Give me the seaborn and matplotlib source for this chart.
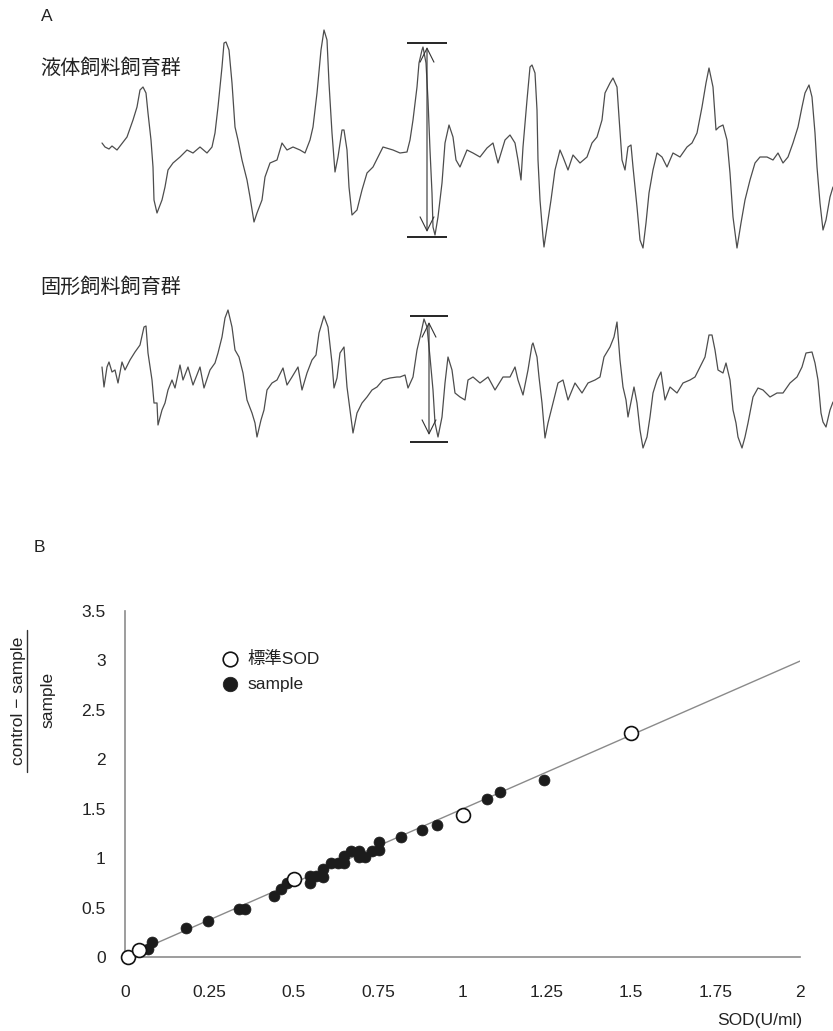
import matplotlib
matplotlib.use("Agg")
import matplotlib.pyplot as plt
from matplotlib.lines import Line2D
from matplotlib import font_manager as fm
import numpy as np
import seaborn as sns

# ---------------- ESR spectra (panel A) ----------------
liquid_field = [2, 5, 9, 12, 17, 27, 33, 37, 40, 43, 46, 48, 51, 53, 54, 57, 62, 65, 68, 73, 80, 87, 93,
                100, 107, 112, 115, 118, 122, 124, 126, 129, 132, 135, 138, 142, 147, 150, 154, 157, 162,
                165, 170, 177, 182, 187, 193, 200, 205, 210, 213, 217, 221, 224, 227, 229, 232, 235, 238,
                242, 244, 247, 249, 252, 257, 262, 267, 273, 278, 283, 293, 300, 307, 310, 313, 317, 319,
                322, 323, 326, 328, 330, 332, 333, 335, 338, 342, 345, 349, 353, 356, 360, 367, 373, 380,
                387, 393, 398, 405, 410, 415, 418, 421, 423, 427, 430, 432, 435, 437, 438, 440, 443, 444,
                447, 451, 455, 460, 463, 468, 473, 480, 487, 492, 497, 502, 505, 510, 513, 517, 519, 522,
                525, 528, 531, 533, 537, 540, 543, 546, 549, 553, 557, 562, 567, 573, 580, 587, 592, 597,
                602, 606, 609, 613, 616, 619, 623, 627, 630, 633, 637, 641, 645, 650, 655, 660, 667, 673,
                678, 683, 688, 693, 698, 702, 705, 709, 712, 715, 717, 720, 723, 726, 730, 733]
liquid_signal = [7, 3, 1, 4, 0, 13, 30, 43, 60, 63, 57, 37, 10, -17, -50, -63, -50, -37, -20, -13, -7, 0, -3,
                 3, -3, 3, 17, 43, 83, 107, 108, 100, 67, 23, 10, -10, -30, -47, -72, -63, -50,
                 -27, -13, -10, 7, 0, 3, 0, -3, 10, 23, 57, 100, 120, 110, 67, 17, -22, -7,
                 20, 20, 0, -37, -65, -60, -40, -23, -17, -7, 3, 0, -3, -2, 10, 30, 63, 87,
                 100, 103, 87, 50, 0, -43, -77, -85, -67, -33, 7, 25, 13, -10, -17, 0, -3, -7,
                 2, 7, -13, 10, 15, 7, -10, -30, 3, 50, 83, 85, 77, 40, -10, -50, -87, -97,
                 -77, -50, -20, 0, -7, -20, -5, -13, -7, 7, 13, 30, 57, 67, 72, 63, 33, -10,
                 -20, 3, 5, -17, -57, -90, -98, -73, -43, -20, -3, -7, -17, -3, -7, 3, 7, 17,
                 43, 67, 82, 63, 20, 23, 25, 10, -23, -67, -98, -73, -50, -30, -13, -7, -7, -10,
                 -3, -13, -7, 7, 23, 43, 57, 65, 53, 17, -17, -53, -80, -70, -47, -37]

solid_field = [2, 4, 7, 9, 12, 15, 18, 22, 25, 30, 35, 40, 44, 46, 48, 52, 54, 57, 58, 62, 65, 68, 72, 75,
               80, 83, 88, 93, 100, 104, 110, 115, 118, 122, 125, 128, 132, 135, 139, 143, 147, 152, 155,
               157, 161, 164, 167, 172, 177, 183, 187, 192, 198, 202, 207, 212, 216, 219, 224, 228, 232,
               234, 237, 240, 244, 247, 250, 253, 257, 262, 267, 272, 277, 283, 290, 297, 300, 305, 308,
               313, 317, 321, 324, 327, 330, 333, 335, 338, 342, 345, 348, 352, 355, 360, 365, 368, 373,
               380, 388, 395, 403, 410, 415, 418, 423, 428, 432, 433, 437, 439, 442, 445, 448, 453, 458,
               463, 468, 475, 482, 488, 495, 500, 504, 510, 514, 517, 520, 523, 526, 528, 532, 534, 537,
               540, 543, 547, 550, 553, 557, 561, 565, 570, 577, 583, 590, 595, 600, 605, 609, 612, 615,
               618, 623, 626, 630, 633, 636, 638, 642, 645, 648, 653, 658, 663, 670, 677, 683, 690, 697,
               702, 706, 712, 715, 718, 721, 723, 726, 730, 733]
solid_signal = [11, -9, 11, 16, 6, 8, -5, 16, 8, 18, 26, 33, 51, 52, 25, -2, -25, -25, -47, -32, -25, -12, -2, -10,
                13, -2, 11, -7, 11, -10, 8, 15, 25, 41, 60, 68, 51, 28, 21, 5, -22, -35, -45,
                -59, -42, -32, -12, -5, -2, 10, -7, 1, 11, -12, 5, 18, 23, 45, 62, 51, 15,
                -10, 0, 25, 31, -9, -32, -55, -35, -25, -19, -12, -9, -2, 0, 1, 1, 3, -10,
                1, 28, 45, 59, 51, 21, -12, -45, -59, -39, -5, 21, 8, -15, -19, -22, -2, 1,
                -5, 1, -12, 1, 1, 11, -2, -17, 8, 33, 35, 21, 1, -25, -60, -45, -25, -5,
                -2, -22, -5, -15, -5, -2, 1, 21, 31, 41, 56, 18, -9, -22, -39, -19, -9, -25,
                -52, -70, -59, -39, -15, -2, 6, -22, -9, -15, -5, -2, 1, 11, 21, 43, 43, 28,
                8, 5, 15, -2, -32, -45, -59, -70, -59, -45, -19, -10, -12, -19, -15, -15, -5, 1,
                11, 25, 26, 15, -2, -35, -44, -49, -32, -24]

# peak-to-peak markers: (left, right, top, bottom, arrow field, arrow top, arrow bottom)
liquid_pp = (307, 347, 107, -87, 327, 103, -82)
solid_pp = (310, 348, 62, -64, 329, 56, -57)

# ---------------- SOD standard curve (panel B) ----------------
std_sod = [0.01, 0.04, 0.50, 1.00, 1.50]
std_ratio = [0.00, 0.07, 0.79, 1.44, 2.27]
sample_sod = [0.069, 0.080, 0.180, 0.247, 0.338, 0.357, 0.441, 0.463, 0.480, 0.549, 0.549, 0.565,
              0.587, 0.587, 0.609, 0.631, 0.650, 0.650, 0.670, 0.693, 0.693, 0.712, 0.732, 0.753,
              0.754, 0.818, 0.881, 0.923, 1.072, 1.110, 1.240]
sample_ratio = [0.08, 0.15, 0.29, 0.36, 0.49, 0.49, 0.62, 0.69, 0.75, 0.75, 0.82, 0.82,
                0.81, 0.89, 0.95, 0.95, 0.95, 1.02, 1.07, 1.07, 1.01, 1.01, 1.07, 1.08,
                1.16, 1.21, 1.28, 1.34, 1.60, 1.67, 1.79]
x_ticks = [0, 0.25, 0.5, 0.75, 1, 1.25, 1.5, 1.75, 2]
x_tick_labels = ["0", "0.25", "0.5", "0.75", "1", "1.25", "1.5", "1.75", "2"]
y_ticks = [0, 0.5, 1, 1.5, 2, 2.5, 3, 3.5]
y_tick_labels = ["0", "0.5", "1", "1.5", "2", "2.5", "3", "3.5"]

# ---------------- style ----------------
sns.set_theme(style="white")
installed = {f.name for f in fm.fontManager.ttflist}
NARROW = "Liberation Sans Narrow" if "Liberation Sans Narrow" in installed else "Liberation Sans"
plt.rcParams["font.family"] = ["Liberation Sans", "Noto Sans CJK JP", "DejaVu Sans"]
CJK = ["Noto Sans CJK JP", "DejaVu Sans"]

W, H = 833, 1031
fig = plt.figure(figsize=(W / 100, H / 100), dpi=100)
fig.patch.set_facecolor("white")


def fpos(x, y):
    return x / W, 1 - y / H


# ---------------- panel A ----------------
ax_a = fig.add_axes([0, 1 - 470 / H, 1, 470 / H])
ax_a.set_xlim(-100, 733)
ax_a.set_ylim(0, 470)
ax_a.axis("off")

trace_color = "#4d4d4d"
for field, signal, base, pp in [(liquid_field, liquid_signal, 320, liquid_pp),
                                (solid_field, solid_signal, 92, solid_pp)]:
    sns.lineplot(x=field, y=np.asarray(signal) + base, sort=False, estimator=None,
                 color=trace_color, lw=0.9, ax=ax_a)
    left, right, top, bottom, ax_x, a_top, a_bot = pp
    ax_a.hlines([base + top, base + bottom], left, right, color="black", lw=1.2)
    ax_a.annotate("", xy=(ax_x, base + a_top), xytext=(ax_x, base + a_bot),
                  arrowprops=dict(arrowstyle="<->,head_length=1.0,head_width=0.5",
                                  mutation_scale=10, color="#333333", lw=0.8,
                                  shrinkA=0, shrinkB=0))

fig.text(*fpos(41, 16.5), "A", ha="left", va="center", fontsize=12.5, color="#222222")
fig.text(*fpos(40, 68.5), "液体飼料飼育群", ha="left", va="center", fontsize=14.5,
         family=CJK, color="#222222")
fig.text(*fpos(40, 287.5), "固形飼料飼育群", ha="left", va="center", fontsize=14.5,
         family=CJK, color="#222222")
fig.text(*fpos(34, 548), "B", ha="left", va="center", fontsize=12.5, color="#222222")

# ---------------- panel B ----------------
ax = fig.add_axes([125 / W, 1 - 957 / H, 675 / W, 346 / H])
ax.set_xlim(0, 2)
ax.set_ylim(0, 3.5)

sns.regplot(x=std_sod, y=std_ratio, scatter=False, ci=None, truncate=False, ax=ax,
            line_kws=dict(color="#8a8a8a", lw=1.0, zorder=1))
sns.scatterplot(x=sample_sod, y=sample_ratio, s=62, color="#1c1c1c", edgecolor="#1c1c1c",
                linewidth=0.5, ax=ax, zorder=3, clip_on=False, label="sample")
sns.scatterplot(x=std_sod, y=std_ratio, s=100, facecolor="white", edgecolor="#111111",
                linewidth=1.2, ax=ax, zorder=4, clip_on=False, label="標準SOD")

for side in ["top", "right"]:
    ax.spines[side].set_visible(False)
for side in ["left", "bottom"]:
    ax.spines[side].set_color("#8c8c8c")
    ax.spines[side].set_linewidth(1.2)

ax.set_xticks(x_ticks)
ax.set_xticklabels(x_tick_labels)
ax.set_yticks(y_ticks)
ax.set_yticklabels(y_tick_labels)
ax.tick_params(axis="x", direction="in", length=4, width=1, color="#8c8c8c", pad=20,
               labelsize=12.5, labelcolor="#222222")
ax.tick_params(axis="y", direction="in", length=4, width=1, color="#8c8c8c", pad=14,
               labelsize=12.5, labelcolor="#222222")
for lab in ax.get_xticklabels() + ax.get_yticklabels():
    lab.set_family(NARROW)
ax.set_xlabel("")
ax.set_ylabel("")

handles, labels = ax.get_legend_handles_labels()
order = [labels.index("標準SOD"), labels.index("sample")]
leg = ax.legend([handles[i] for i in order], [labels[i] for i in order],
                loc="upper left", bbox_to_anchor=fpos(221, 651), bbox_transform=fig.transFigure,
                frameon=False, borderpad=0, borderaxespad=0, handlelength=1.0,
                handletextpad=0.5, labelspacing=0.55,
                prop=dict(family=["Liberation Sans", "Noto Sans CJK JP"], size=12.5))
for t in leg.get_texts():
    t.set_color("#222222")
for h in leg.legend_handles:
    h.set_sizes([110])

fig.text(*fpos(802, 1021), "SOD(U/ml)", ha="right", va="center", fontsize=12.5,
         family=NARROW, color="#222222")

# y-axis label written as a fraction
fig.text(*fpos(18.5, 701), "control − sample", rotation=90, ha="center", va="center",
         fontsize=12.5, color="#222222")
fig.add_artist(Line2D([26.7 / W, 26.7 / W], [1 - 772 / H, 1 - 630 / H],
                      transform=fig.transFigure, color="#333333", lw=1.0))
fig.text(*fpos(47.5, 700), "sample", rotation=90, ha="center", va="center",
         fontsize=12.5, color="#222222")

fig.savefig("out.png", dpi=100, facecolor="white")
